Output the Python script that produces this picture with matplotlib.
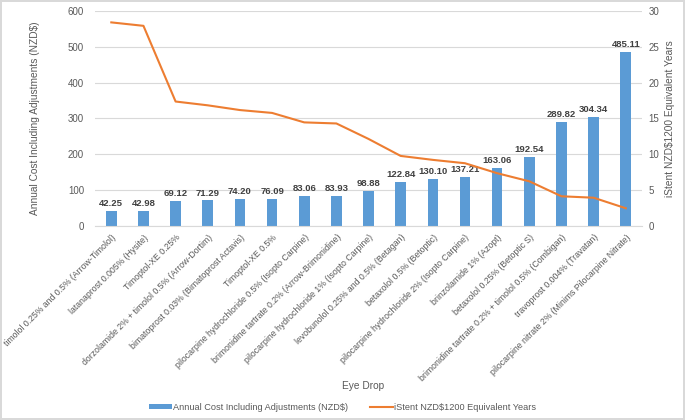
import matplotlib.pyplot as plt
import numpy as np

plt.rcParams['font.family'] = ['Liberation Sans', 'DejaVu Sans']

drops = [
    'timolol 0.25% and 0.5% (Arrow-Timolol)',
    'latanaprost 0.005% (Hysite)',
    'Timoptol-XE 0.25%',
    'dorzolamide 2% + timolol 0.5% (Arrow-Dortim)',
    'bimatoprost 0.03% (Bimatoprost Actavis)',
    'Timoptol-XE 0.5%',
    'pilocarpine hydrochloride 0.5% (Isopto Carpine)',
    'brimonidine tartrate 0.2% (Arrow-Brimonidine)',
    'pilocarpine hydrochloride 1% (Isopto Carpine)',
    'levobunolol 0.25% and 0.5% (Betagan)',
    'betaxolol 0.5% (Betoptic)',
    'pilocarpine hydrochloride 2% (Isopto Carpine)',
    'brinzolamide 1% (Azopt)',
    'betaxolol 0.25% (Betoptic S)',
    'brimonidine tartrate 0.2% + timolol 0.5% (Combigan)',
    'travoprost 0.004% (Travatan)',
    'pilocarpine nitrate 2% (Minims Pilocarpine Nitrate)',
]
annual_cost = [42.25, 42.98, 69.12, 71.29, 74.20, 76.09, 83.06, 83.93, 98.88,
               122.84, 130.10, 137.21, 163.06, 192.54, 289.82, 304.34, 485.11]
istent_years = [28.40, 27.92, 17.36, 16.83, 16.17, 15.77, 14.45, 14.30, 12.14,
                9.77, 9.22, 8.75, 7.36, 6.23, 4.14, 3.94, 2.47]

bar_color = '#5B9BD5'
line_color = '#ED7D31'
text_gray = '#595959'
grid_gray = '#D9D9D9'

fig = plt.figure(figsize=(6.85, 4.2), dpi=100)
fig.patch.set_edgecolor(grid_gray)
fig.patch.set_linewidth(1.5)
ax = fig.add_axes([0.139, 0.462, 0.798, 0.512])
x = np.arange(len(drops))

bars = ax.bar(x, annual_cost, width=0.33, color=bar_color, zorder=2,
              label='Annual Cost Including Adjustments (NZD$)')
for xi, v in zip(x, annual_cost):
    ax.text(xi, v + 8, f'{v:.2f}', ha='center', va='bottom', fontsize=6.8,
            fontweight='bold', color='#404040')

ax.set_xlim(-0.5, len(drops) - 0.5)
ax.set_ylim(0, 600)
ax.set_yticks(range(0, 601, 100))
ax.grid(axis='y', color=grid_gray, linewidth=0.8, zorder=0)
for s in ['top', 'right', 'left']:
    ax.spines[s].set_visible(False)
ax.spines['bottom'].set_color(grid_gray)
ax.tick_params(axis='y', length=0, labelsize=7, colors=text_gray, pad=8)
ax.tick_params(axis='x', length=0, labelsize=6.3, colors=text_gray, pad=5)
ax.set_xticks(x)
ax.set_xticklabels(drops, rotation=45, ha='right', rotation_mode='anchor')
ax.set_ylabel('Annual Cost Including Adjustments (NZD$)', fontsize=7.3, color=text_gray, labelpad=20)
ax.set_xlabel('Eye Drop', fontsize=7.3, color=text_gray)
ax.xaxis.set_label_coords(0.49, -0.72)

ax2 = ax.twinx()
ax2.plot(x, istent_years, color=line_color, linewidth=1.5, zorder=3,
         label='iStent NZD$1200 Equivalent Years')
ax2.set_ylim(0, 30)
ax2.set_yticks(range(0, 31, 5))
for s in ['top', 'right', 'left', 'bottom']:
    ax2.spines[s].set_visible(False)
ax2.tick_params(axis='y', length=0, labelsize=7, colors=text_gray, pad=5)
ax2.set_ylabel('iStent NZD$1200 Equivalent Years', fontsize=7.3, color=text_gray, labelpad=4)

h1, l1 = ax.get_legend_handles_labels()
h2, l2 = ax2.get_legend_handles_labels()
fig.legend(h1 + h2, l1 + l2, loc='center', bbox_to_anchor=(0.5, 0.03), ncol=2,
           frameon=False, fontsize=6.6, labelcolor=text_gray, handlelength=2.5,
           handleheight=0.4, columnspacing=2.5, handletextpad=0.1)

plt.savefig('out.png', dpi=100)
